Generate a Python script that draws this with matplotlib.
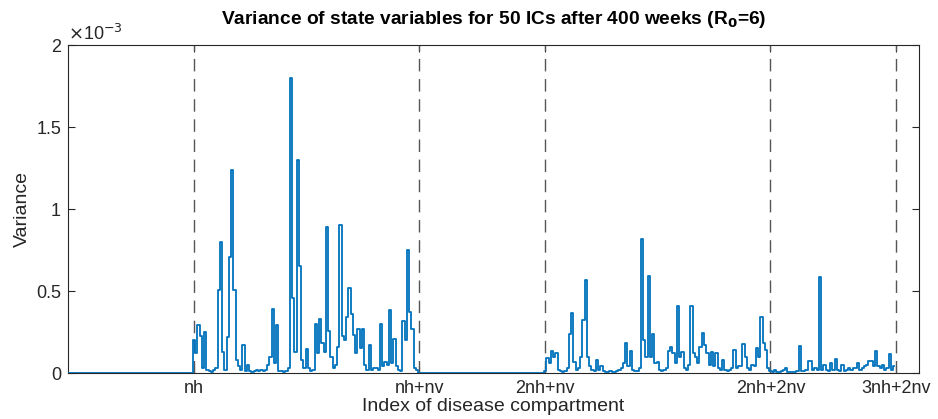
import numpy as np
import matplotlib
matplotlib.use("Agg")
import matplotlib.pyplot as plt

plt.rcParams['font.family'] = ['Liberation Sans', 'DejaVu Sans']

# ---- data (variance values in units of 1e-3) ----
nh = 56
nv = 100

seg_hv = [0.20, 0.12, 0.29, 0.225, 0.03, 0.25, 0.02, 0.01, 0.005, 0.02,
          0.03, 0.505, 0.80, 0.13, 0.02, 0.22, 0.71, 1.24, 0.505, 0.08,
          0.04, 0.02, 0.17, 0.01, 0.05, 0.01, 0.005, 0.01, 0.02, 0.01,
          0.02, 0.01, 0.02, 0.05, 0.10, 0.39, 0.06, 0.29, 0.01, 0.01,
          0.005, 0.01, 0.03, 1.80, 0.46, 0.13, 1.30, 0.655, 0.08, 0.03,
          0.145, 0.03, 0.01, 0.02, 0.30, 0.12, 0.33, 0.18, 0.13, 0.89,
          0.256, 0.10, 0.03, 0.05, 0.16, 0.90, 0.225, 0.20, 0.34, 0.52,
          0.36, 0.23, 0.12, 0.27, 0.15, 0.27, 0.05, 0.02, 0.17, 0.02,
          0.03, 0.03, 0.02, 0.30, 0.04, 0.07, 0.05, 0.385, 0.06, 0.21,
          0.04, 0.02, 0.01, 0.32, 0.20, 0.75, 0.37, 0.27, 0.03, 0.02]

seg_vh = [0.01, 0.093, 0.06, 0.136, 0.10, 0.12, 0.02, 0.01, 0.005, 0.01,
          0.03, 0.236, 0.368, 0.07, 0.02, 0.03, 0.10, 0.323, 0.567, 0.10,
          0.04, 0.02, 0.01, 0.079, 0.02, 0.04, 0.01, 0.005, 0.005, 0.01,
          0.005, 0.005, 0.01, 0.02, 0.03, 0.06, 0.18, 0.04, 0.136, 0.02,
          0.01, 0.01, 0.03, 0.82, 0.20, 0.10, 0.59, 0.10, 0.238, 0.06,
          0.07, 0.02, 0.01, 0.02, 0.03, 0.136, 0.156, 0.12, 0.06, 0.41,
          0.10, 0.13, 0.03, 0.02, 0.05, 0.41, 0.125, 0.10, 0.06, 0.16,
          0.242, 0.17, 0.12, 0.05, 0.13, 0.04, 0.125, 0.03, 0.02, 0.08,
          0.02, 0.01, 0.02, 0.03, 0.14, 0.03, 0.04, 0.04, 0.177, 0.10,
          0.03, 0.02, 0.05, 0.04, 0.15, 0.10, 0.343, 0.18, 0.14, 0.03]

seg_h3 = [0.01, 0.005, 0.02, 0.005, 0.005, 0.01, 0.02, 0.03, 0.005, 0.005,
          0.005, 0.005, 0.01, 0.165, 0.01, 0.01, 0.02, 0.075, 0.075, 0.02,
          0.03, 0.02, 0.587, 0.02, 0.05, 0.02, 0.01, 0.06, 0.02, 0.083,
          0.02, 0.01, 0.05, 0.01, 0.02, 0.03, 0.02, 0.03, 0.03, 0.06,
          0.02, 0.03, 0.04, 0.05, 0.075, 0.075, 0.04, 0.136, 0.04, 0.03,
          0.05, 0.02, 0.03, 0.116, 0.02, 0.04]

seg_zero_a = [0.0] * nh
seg_zero_b = [0.0] * nh

tick_labels = ['nh', 'nh+nv', '2nh+nv', '2nh+2nv', '3nh+2nv']

values = np.array(seg_zero_a + seg_hv + seg_zero_b + seg_vh + seg_h3) * 1e-3
idx = np.arange(len(values))
tick_pos = [nh, nh + nv, 2 * nh + nv, 2 * nh + 2 * nv, 3 * nh + 2 * nv]

# ---- figure ----
fig = plt.figure(figsize=(9.38, 4.19), dpi=100)
ax = fig.add_axes([68 / 938, 1 - 373 / 419, (919 - 68) / 938, (373 - 45) / 419])

ax.plot(idx, values, color='#0072BD', lw=1.3, drawstyle='steps-mid', zorder=3)
for p in tick_pos:
    ax.axvline(p, color='#555555', lw=1.0, linestyle=(0, (9, 5.5)), zorder=2)

ax.set_xlim(0, 378)
ax.set_ylim(0, 2e-3)
ax.set_xticks(tick_pos)
ax.set_xticklabels(tick_labels)
ax.set_yticks([0, 0.5e-3, 1e-3, 1.5e-3, 2e-3])
ax.set_yticklabels(['0', '0.5', '1', '1.5', '2'])

txtc = '#262626'
ax.tick_params(direction='in', length=5, width=0.8, colors=txtc,
               labelsize=13, top=True, right=True, pad=5)
for s in ax.spines.values():
    s.set_color(txtc)
    s.set_linewidth(0.8)

ax.text(0.0, 1.003, r'$\times$10$^{-3}$', transform=ax.transAxes,
        ha='left', va='bottom', fontsize=13, color=txtc)

ax.set_title('Variance of state variables for 50 ICs after 400 weeks (R$_\\mathbf{0}$=6)',
             fontsize=13.8, fontweight='bold', color='black', pad=15)
ax.set_xlabel('Index of disease compartment', fontsize=14, color=txtc, labelpad=1)
ax.set_ylabel('Variance', fontsize=14, color=txtc, labelpad=4)

fig.savefig('out.png', dpi=100)
